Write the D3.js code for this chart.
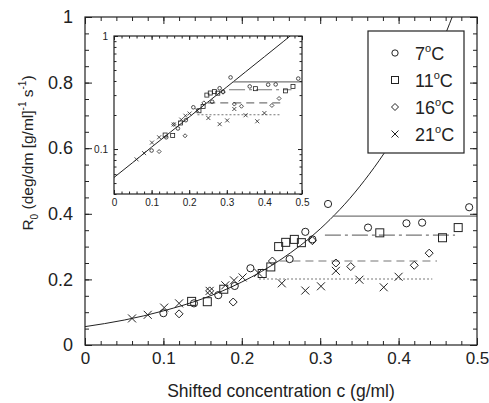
<!DOCTYPE html>
<html><head><meta charset="utf-8">
<script src="https://cdn.jsdelivr.net/npm/d3@7"></script>
<style>
body{margin:0;background:#fff;}
svg{display:block;font-family:"Liberation Sans",Arial,sans-serif;}
</style></head>
<body><div id="chart"></div>
<script>
// measured points, [c (g/ml), R0]
const pts7= [[0.100,0.097],[0.139,0.127],[0.170,0.152],[0.191,0.180],[0.211,0.234],[0.261,0.262],
  [0.281,0.345],[0.290,0.322],[0.310,0.430],[0.361,0.358],[0.410,0.371],[0.430,0.373],[0.490,0.420]];
const pts11= [[0.136,0.133],[0.156,0.132],[0.177,0.170],[0.226,0.218],[0.237,0.238],[0.247,0.300],
  [0.256,0.313],[0.267,0.322],[0.276,0.312],[0.376,0.342],[0.456,0.327],[0.476,0.358]];
const pts16= [[0.120,0.095],[0.159,0.165],[0.189,0.131],[0.239,0.256],[0.290,0.318],[0.320,0.250],
  [0.339,0.239],[0.420,0.243],[0.439,0.280]];
const pts21= [[0.060,0.081],[0.080,0.092],[0.101,0.114],[0.120,0.127],[0.159,0.165],[0.179,0.182],
  [0.190,0.197],[0.201,0.206],[0.221,0.220],[0.251,0.188],[0.281,0.166],[0.301,0.179],[0.320,0.226],
  [0.350,0.199],[0.381,0.176],[0.400,0.208]];

// fitted curve
const curveC= [0, 0.05, 0.10, 0.15, 0.20, 0.25, 0.30, 0.35, 0.40, 0.45, 0.47];
const curveR= [0.056, 0.076, 0.104, 0.141, 0.192, 0.261, 0.354, 0.482, 0.655, 0.891, 1.01];

// plateau levels per temperature
const levelR= [0.393, 0.335, 0.256, 0.201];
const levelFrom= [0.316, 0.306, 0.248, 0.222];
const levelTo= [0.500, 0.472, 0.449, 0.443];

const seriesLabels= ['7', '11', '16', '21'];
const seriesPts= [pts7, pts11, pts16, pts21];
const seriesShape= ['circle', 'square', 'diamond', 'cross'];
const levelDash= ['', '16,4,3,4', '8,5', '2,2'];

const W= 489, H= 403;
const MAR= { top: 17, right: 12, bottom: 58, left: 85 };
const iW= W-MAR.left-MAR.right, iH= H-MAR.top-MAR.bottom;

const svg= d3.select('#chart').append('svg').attr('width', W).attr('height', H);
const ink= '#222';

function shape(g, kind, x, y, s) {
  if (kind === 'circle') {
    g.append('circle').attr('cx', x).attr('cy', y).attr('r', s*0.9);
  } else if (kind === 'square') {
    g.append('rect').attr('x', x-s).attr('y', y-s).attr('width', 2*s).attr('height', 2*s);
  } else if (kind === 'diamond') {
    g.append('path').attr('d', `M${x},${y-s}L${x+s},${y}L${x},${y+s}L${x-s},${y}Z`);
  } else {
    g.append('path').attr('d', `M${x-s},${y-s}L${x+s},${y+s}M${x-s},${y+s}L${x+s},${y-s}`);
  }
}

function ticks(g, x, y, w, h, xMaj, xMin, yMaj, yMin, big, small, fs, yfs, xPad, yPad, yFmt) {
  const put= (axis, tr, size) => g.append('g').attr('transform', tr).call(axis)
    .call(a => a.select('.domain').remove())
    .call(a => a.selectAll('line').attr('stroke', ink))
    .call(a => a.selectAll('text').attr('fill', ink).attr('font-size', size || fs).attr('font-family', null));
  put(d3.axisBottom(x).tickValues(xMin).tickSize(-small).tickFormat(''), `translate(0,${h})`);
  put(d3.axisBottom(x).tickValues(xMaj).tickSize(-big).tickPadding(xPad).tickFormat(d3.format('~g')), `translate(0,${h})`);
  put(d3.axisTop(x).tickValues(xMin).tickSize(-small).tickFormat(''), 'translate(0,0)');
  put(d3.axisTop(x).tickValues(xMaj).tickSize(-big).tickFormat(''), 'translate(0,0)');
  put(d3.axisLeft(y).tickValues(yMin).tickSize(-small).tickFormat(''), 'translate(0,0)');
  put(d3.axisLeft(y).tickValues(yMaj).tickSize(-big).tickPadding(yPad).tickFormat(yFmt), 'translate(0,0)', yfs);
  put(d3.axisRight(y).tickValues(yMin).tickSize(-small).tickFormat(''), `translate(${w},0)`);
  put(d3.axisRight(y).tickValues(yMaj).tickSize(-big).tickFormat(''), `translate(${w},0)`);
  g.append('rect').attr('width', w).attr('height', h)
    .attr('fill', 'none').attr('stroke', ink).attr('stroke-width', 1.2);
}

function plotBody(g, x, y, w, h, id, sz, sw) {
  g.append('clipPath').attr('id', id).append('rect').attr('width', w).attr('height', h);
  const body= g.append('g').attr('clip-path', `url(#${id})`);
  const line= d3.line().x(d => x(d[0])).y(d => y(d[1])).curve(d3.curveMonotoneX);
  body.append('path').attr('d', line(curveC.map((c, i) => [c, curveR[i]])))
    .attr('fill', 'none').attr('stroke', ink).attr('stroke-width', 1);
  levelR.forEach((r, i) => {
    body.append('line')
      .attr('x1', x(levelFrom[i])).attr('x2', x(levelTo[i]))
      .attr('y1', y(r)).attr('y2', y(r))
      .attr('stroke', '#777').attr('stroke-width', 1.1)
      .attr('stroke-dasharray', levelDash[i]);
  });
  const mg= body.append('g').attr('fill', 'none').attr('stroke', ink).attr('stroke-width', sw);
  seriesPts.forEach((pts, i) => {
    pts.forEach(p => shape(mg, seriesShape[i], x(p[0]), y(p[1]), sz));
  });
}

// main panel
const g= svg.append('g').attr('transform', `translate(${MAR.left},${MAR.top})`);
const xSc= d3.scaleLinear().domain([0, 0.5]).range([0, iW]);
const ySc= d3.scaleLinear().domain([0, 1]).range([iH, 0]);
plotBody(g, xSc, ySc, iW, iH, 'clipMain', 4, 1);
ticks(g, xSc, ySc, iW, iH,
  d3.range(0, 0.51, 0.1), d3.range(0, 0.501, 0.02),
  d3.range(0, 1.01, 0.2), d3.range(0, 1.001, 0.05),
  7, 4, 17, 18, 7, 12, d3.format('~g'));

// inset panel
const IN= { x: 114, y: 36, w: 188, h: 158 };
const ig= svg.append('g').attr('transform', `translate(${IN.x},${IN.y})`);
ig.append('rect').attr('width', IN.w).attr('height', IN.h).attr('fill', '#fff');
const xIn= d3.scaleLinear().domain([0, 0.5]).range([0, IN.w]);
const yIn= d3.scaleLog().domain([0.04, 1]).range([IN.h, 0]);
plotBody(ig, xIn, yIn, IN.w, IN.h, 'clipInset', 2, 0.8);
const logMin= [0.04, 0.05, 0.06, 0.07, 0.08, 0.09, 0.2, 0.3, 0.4, 0.5, 0.6, 0.7, 0.8, 0.9];
ticks(ig, xIn, yIn, IN.w, IN.h,
  d3.range(0, 0.51, 0.1), d3.range(0, 0.501, 0.02),
  [0.1, 1], logMin, 4, 2.5, 10, 10, 5, 6, d3.format('~g'));

// legend
const LG= { x: 368, y: 31, w: 96, h: 122 };
const lg= svg.append('g').attr('transform', `translate(${LG.x},${LG.y})`);
lg.append('rect').attr('width', LG.w).attr('height', LG.h)
  .attr('fill', '#fff').attr('stroke', ink).attr('stroke-width', 1.2);
seriesLabels.forEach((t, i) => {
  const ly= 22+i*27;
  const sg= lg.append('g').attr('fill', 'none').attr('stroke', ink).attr('stroke-width', 1);
  shape(sg, seriesShape[i], 27, ly, 3.5);
  const tx= lg.append('text').attr('x', 47).attr('y', ly+7)
    .attr('font-size', 18).attr('fill', ink);
  tx.append('tspan').text(t);
  tx.append('tspan').attr('font-size', 11).attr('dy', -8).text('o');
  tx.append('tspan').attr('dy', 8).text('C');
});

// axis titles
svg.append('text')
  .attr('x', MAR.left+iW/2).attr('y', 397)
  .attr('text-anchor', 'middle').attr('font-size', 17.5).attr('fill', ink)
  .text('Shifted concentration c (g/ml)');

const yt= svg.append('text')
  .attr('transform', 'translate(33,153) rotate(-90)')
  .attr('text-anchor', 'middle').attr('font-size', 15.5).attr('fill', ink);
yt.append('tspan').text('R');
yt.append('tspan').attr('font-size', 10).attr('dy', 5).text('0');
yt.append('tspan').attr('dy', -5).text(' (deg/dm [g/ml]');
yt.append('tspan').attr('font-size', 10).attr('dy', -7).text('-1');
yt.append('tspan').attr('dy', 7).text(' s');
yt.append('tspan').attr('font-size', 10).attr('dy', -7).text('-1');
yt.append('tspan').attr('dy', 7).text(')');
</script>
</body></html>
